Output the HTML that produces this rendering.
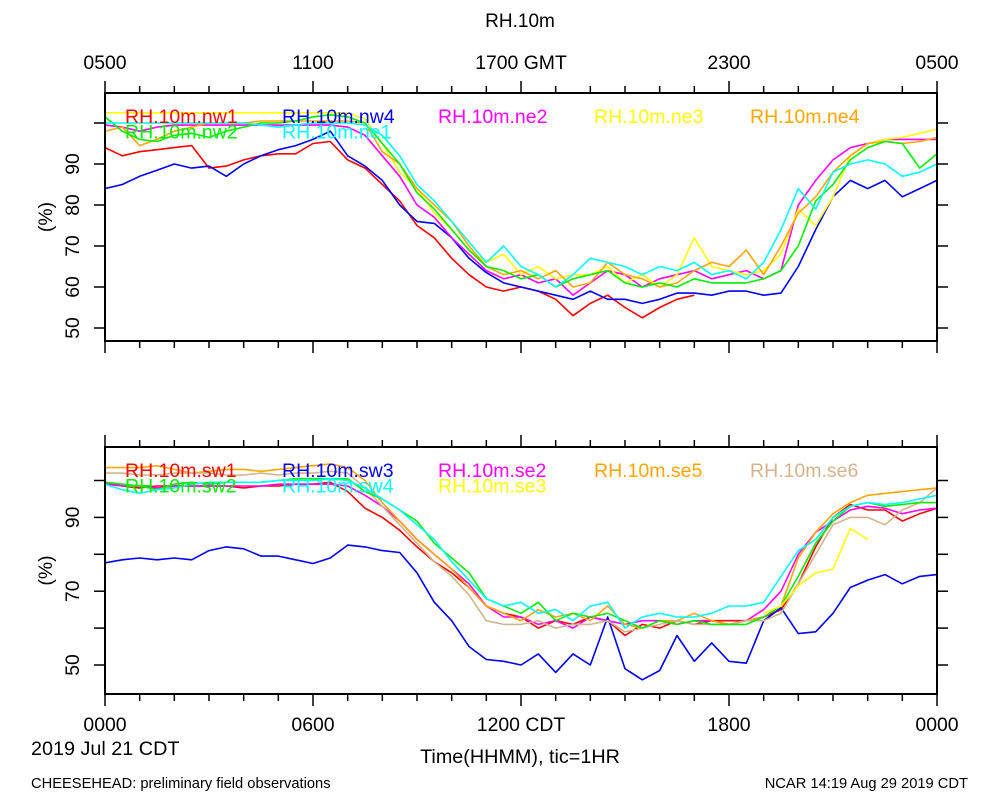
<!DOCTYPE html>
<html><head><meta charset="utf-8"><style>
body{margin:0;background:#fff;}
svg{display:block;font-family:"Liberation Sans",sans-serif;}
</style></head><body>
<svg id="chart" width="1000" height="800" viewBox="0 0 1000 800" xmlns="http://www.w3.org/2000/svg">
<defs>
<clipPath id="clipTop"><rect x="105" y="93" width="832" height="248"/></clipPath>
<clipPath id="clipBot"><rect x="105" y="447" width="832" height="247"/></clipPath>
</defs>
<text x="520" y="27" font-size="19" text-anchor="middle">RH.10m</text>
<text x="31" y="755" font-size="19.8">2019 Jul 21 CDT</text>
<text x="520" y="763" font-size="19.8" text-anchor="middle">Time(HHMM), tic=1HR</text>
<text x="31" y="788" font-size="14.7">CHEESEHEAD: preliminary field observations</text>
<text x="968" y="788" font-size="14.7" text-anchor="end">NCAR 14:19 Aug 29 2019 CDT</text>
<g id="layer"></g>
</svg>
<script>
const hours = [];
for (let i = 0; i <= 48; i++) hours.push(i * 0.5);
const topNames = ["RH.10m.nw1","RH.10m.nw4","RH.10m.ne2","RH.10m.ne3","RH.10m.ne4","RH.10m.nw2","RH.10m.ne1"];
const topColors = ["#ff0000","#0000ff","#ff00ff","#ffff00","#ffa500","#00ee00","#00ffff"];
const nw1 = [94,92,93,93.5,94,94.5,89,89.5,91,92,92.5,92.5,95,95.5,91,89,85,81,75,72,67,63,60,59,60,59,57,53,56,58,55,52.5,55,57,58,null,null,null,null,null,null,null,null,null,null,null,null,null,null];
const nw4 = [84,85,87,88.5,90,89,89.5,87,90,92,93.5,94.5,96,98,92,89.5,86,80,76,75.5,72,67,63.5,61,60,59,58,57,59,57,57,56,57,58.5,58.5,58,59,59,58,58.5,65,74,82,86,84,86,82,84,86];
const ne2 = [99.5,99,98,99,99.5,99.5,99.5,99.5,99.5,99.5,99.5,99.5,99.5,99.5,99,97,92,87,80,77,72,68,64,62,63,61,62,58,61,64,63,60,62,63,64,62,63,64,62,64,80,86,91,94,95,96,96,96,96];
const ne3 = [102.5,102.5,102.5,102.5,102.5,102.5,102.5,102.5,102.5,102.5,102.5,102.5,102.5,102.5,102.5,101,95,88,84,78,74,69,66,68,63,65,62,63,63,65,61,63,60,63,72,65,64,63,64,68,79,75,82,92,95,96,96.5,97.5,98.5];
const ne4 = [98,99,94.5,96,98,99,100,100,100,100.5,100.5,100.5,100.5,100.5,100.5,100,93,90,84,80,76,70,65,63,64,62,64,60,61,66,63,62,60,61,64,66,65,69,63,70,78,82,88,92,95,95.5,95,95.5,96.5];
const nw2 = [101.5,98,96,95.5,97,97.5,96.5,98,99,100,100,100.5,101.5,102,101.5,100,95,90,83,79,74,69,65,64,62,63,60,62,63,64,61,60,61,60,62,61,61,61,62,64,70,81,85,91,94,95.5,95,89,92.5];
const ne1 = [100,100,100,100,100,100,100,100,100,99.5,99,99.5,100,100,100,99.5,97,92,85,81,76,71,66,70,65,63,60,63,67,66,65,63,65,64,66,63,64,62,66,74,84,79,88,90,91,90,87,88,90];
const topSeries = [nw1,nw4,ne2,ne3,ne4,nw2,ne1];

const botNames = ["RH.10m.sw1","RH.10m.sw3","RH.10m.se2","RH.10m.se5","RH.10m.se6","RH.10m.sw2","RH.10m.sw4","RH.10m.se3"];
const botColors = ["#ff0000","#0000ff","#ff00ff","#ffa500","#d2b48c","#00ee00","#00ffff","#ffff00"];
const sw1 = [99.5,98.5,98,98.5,98.5,98.5,98.5,98.5,98,98.5,98.5,99,99,99.5,97,92.5,90,86.5,82,78,75,71,66,64,63,60,62,61,63,62,58,61,60,62,61,62,62,62,63,65,72,82,90,93.5,92,92,89,91,92.5];
const sw3 = [77.7,78.5,79,78.5,79,78.5,81,82,81.5,79.5,79.5,78.5,77.5,79,82.5,82,81,80.5,75,67,62,55,51.5,51,50,53,48,53,50,63,49,46,48.5,58,51,56,51,50.5,62,65.5,58.5,59,64,71,73,74.5,72,74,74.5];
const se2 = [99,98.5,98.5,98,98.5,98.5,98.5,98.5,98.5,98.5,99,99,99,99,98.5,96,93,89,84,80,76,72,66,63,63,61,62,60,63,62,61,62,62,61,62,62,61,62,65,70,80,86,89,92,93,92.5,91,92,92.5];
const se5 = [103.5,103.5,103.5,104,103,102,102.5,103,103,102.5,103,103.5,104,104.5,103.5,100,94,89,84,80,76,71,66,64,62,65,63,64,62,66,61,60,62,62,64,62,61,62,63,66,79,86,91,94,96,96.5,97,97.5,98];
const se6 = [102,102,101.5,101.5,102,102,102,101.5,101.5,102,101.5,102,102,102.5,102,98,93,88,83,78,74,69,62,61,61,62,60,61,61,62,59,60,61,62,61,61,61,62,62,64,72,80,88,90,90,88,92,94,98];
const sw2 = [99.5,99,98.5,97.5,99,99.5,99,99.5,99.5,99.5,100,100.5,100.5,100.5,100.5,97,95,92,89,83,79,75,68,66,64,67,62,64,63,64,62,60,62,61,62,61,61,61,63,66,74,83,89,93,94,93,93.5,94,94];
const sw4 = [99,97.5,96.5,97.5,98,99,99.5,99.5,99.5,99.5,100,100,100,100.5,100,98,95,92,88,84,78,73,68,66,67,64,65,62,66,67,60,63,64,63,63,64,66,66,67,74,81,84,90,93,94,93.5,94,95,96];
const se3 = [null,null,null,null,null,null,null,null,null,null,null,null,null,null,null,null,null,null,null,null,null,null,null,null,null,null,null,null,null,null,null,null,null,null,null,null,null,null,64,66,71.5,75,76,87,84,null,null,null,null];
const botSeries = [sw1,sw3,se2,se5,se6,sw2,sw4,se3];

const topTickVals = [100,90,80,70,60,50];
const topTickLabels = ["","90","80","70","60","50"];
const botTickVals = [100,90,80,70,60,50];
const botTickLabels = ["","90","","70","","50"];
const topXLabels = ["0500","1100","1700 GMT","2300","0500"];
const botXLabels = ["0000","0600","1200 CDT","1800","0000"];

const NS = "http://www.w3.org/2000/svg";
const layer = document.getElementById("layer");
const X0 = 105, X1 = 937;
function xScale(h){ return X0 + (X1 - X0) * h / 24; }
const topPanel = {top:93, bottom:341, y: v => 328 - (v - 50) * 4.1, clip:"clipTop"};
const botPanel = {top:447, bottom:694, y: v => 665 - (v - 50) * 3.69, clip:"clipBot"};

function mk(tag, attrs){ const e = document.createElementNS(NS, tag); for (const k in attrs) e.setAttribute(k, attrs[k]); return e; }

function drawPanel(p, pname, series, names, colors, tickVals, tickLabels, xLabels, labelsOnTop){
  const g = mk("g", {});
  
  
  layer.appendChild(g);
  const lines = mk("g", {"clip-path":"url(#" + p.clip + ")"});
  g.appendChild(lines);
  series.forEach((s, si) => {
    let d = ""; let pen = false;
    s.forEach((v, i) => {
      if (v === null) { pen = false; return; }
      d += (pen ? "L" : "M") + xScale(hours[i]).toFixed(1) + "," + p.y(v).toFixed(1);
      pen = true;
    });
    const path = mk("path", {d:d, fill:"none", stroke:colors[si], "stroke-width":"1.6", "stroke-linejoin":"round"});
    
    
    lines.appendChild(path);
  });
  const frame = mk("rect", {x:X0, y:p.top, width:X1-X0, height:p.bottom-p.top, fill:"none", stroke:"#000", "stroke-width":"2"});
  
  
  g.appendChild(frame);
  for (let h = 0; h <= 24; h++) {
    const x = xScale(h); const len = (h % 6 === 0) ? 12 : 7;
    g.appendChild(mk("line", {x1:x, x2:x, y1:p.top, y2:p.top - len, stroke:"#000", "stroke-width":"1.5"}));
    g.appendChild(mk("line", {x1:x, x2:x, y1:p.bottom, y2:p.bottom + len, stroke:"#000", "stroke-width":"1.5"}));
  }
  xLabels.forEach((lab, i) => {
    const t = mk("text", {x:xScale(i*6), y: labelsOnTop ? 69 : 731, "font-size":"19.4", "text-anchor":"middle"});
    t.textContent = lab;
    
    
    layer.appendChild(t);
  });
  tickVals.forEach((v, i) => {
    const y = p.y(v);
    g.appendChild(mk("line", {x1:X0 - 11, x2:X0, y1:y, y2:y, stroke:"#000", "stroke-width":"1.5"}));
    g.appendChild(mk("line", {x1:X1, x2:X1 + 11, y1:y, y2:y, stroke:"#000", "stroke-width":"1.5"}));
    if (tickLabels[i]) {
      const t = mk("text", {x:0, y:0, "font-size":"19.4", "text-anchor":"middle", transform:"translate(79," + y + ") rotate(-90)"});
      t.textContent = tickLabels[i];
      
      
      g.appendChild(t);
    }
  });
  const yl = mk("text", {x:0, y:0, "font-size":"19.4", "text-anchor":"middle", transform:"translate(52," + ((p.top+p.bottom)/2) + ") rotate(-90)"});
  yl.textContent = "(%)";
  
  
  g.appendChild(yl);
  const cols = [125, 282, 438, 594, 750];
  names.forEach((n, i) => {
    const row = i < 5 ? 0 : 1; const col = i < 5 ? i : i - 5;
    const t = mk("text", {x:cols[col], y:p.top + 30 + row*15.5, "font-size":"19.5", fill:colors[i]});
    t.textContent = n;
    
    
    g.appendChild(t);
  });
}
drawPanel(topPanel, "top", topSeries, topNames, topColors, topTickVals, topTickLabels, topXLabels, true);
drawPanel(botPanel, "bottom", botSeries, botNames, botColors, botTickVals, botTickLabels, botXLabels, false);
</script>
</body></html>
